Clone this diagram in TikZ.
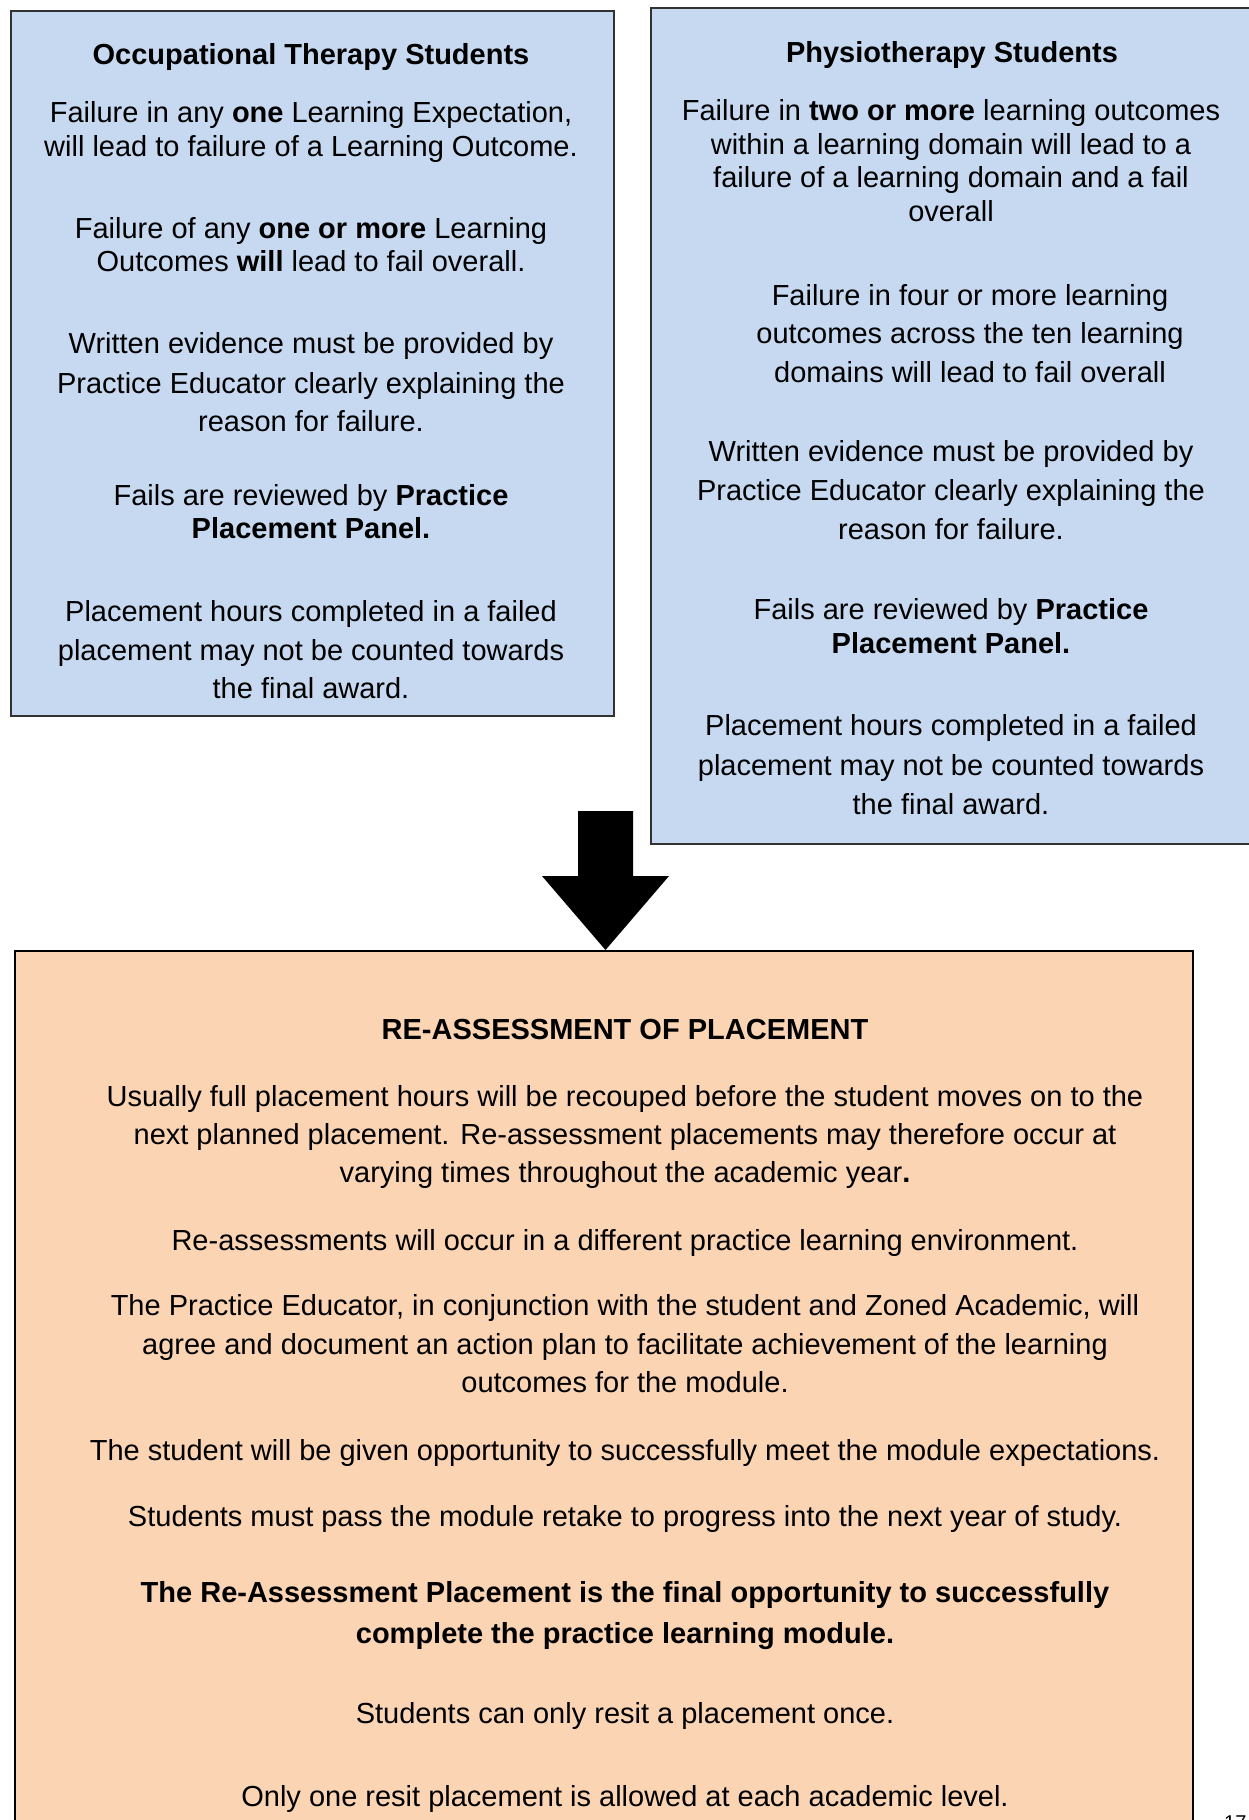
\documentclass[tikz,border=0pt]{standalone}
\usepackage{fontspec}
\setmainfont{Liberation Sans}
\definecolor{panelblue}{RGB}{198,217,240}
\definecolor{panelpeach}{RGB}{251,212,180}
\definecolor{edgegrey}{RGB}{50,50,50}
\begin{document}
\begin{tikzpicture}[x=1pt,y=-1pt,
  panel/.style={draw=edgegrey,line width=1.5pt,anchor=north west,inner sep=0pt},
  ln/.style={anchor=base,inner sep=0pt,font=\fontsize{29}{34}\selectfont}]
\useasboundingbox (0,0) rectangle (1249,1820);

% the three panels
\node[panel,fill=panelblue,minimum width=603pt,minimum height=705pt] (ot) at (10,10) {};
\node[panel,fill=panelblue,minimum width=620pt,minimum height=836pt] (pt) at (650,7) {};
\node[panel,fill=panelpeach,draw=black,line width=1.8pt,minimum width=1178pt,minimum height=900pt] (ra) at (14,950) {};

% block arrow pointing down onto the re-assessment panel
\coordinate (tip) at (605.5,950);
\fill[black] (tip) -- ++(-63.5,-74) -- ++(36,0) -- ++(0,-65) -- ++(55,0) -- ++(0,65) -- ++(36,0) -- cycle;

% Occupational Therapy column
\foreach \t/\yy [count=\i] in {
  {\textbf{Occupational Therapy Students}}/64,
  {Failure in any \textbf{one} Learning Expectation,}/122,
  {will lead to failure of a Learning Outcome.}/156,
  {Failure of any \textbf{one or more} Learning}/238,
  {Outcomes \textbf{will} lead to fail overall.}/271,
  {Written evidence must be provided by}/353,
  {Practice Educator clearly explaining the}/393,
  {reason for failure.}/431,
  {Fails are reviewed by \textbf{Practice}}/505,
  {\textbf{Placement Panel.}}/538,
  {Placement hours completed in a failed}/621,
  {placement may not be counted towards}/660,
  {the final award.}/698}
  \node[ln] (ot\i) at (311,\yy) {\t};

% Physiotherapy column
\foreach \t/\xx/\yy [count=\i] in {
  {\textbf{Physiotherapy Students}}/952/62,
  {Failure in \textbf{two or more} learning outcomes}/951/120,
  {within a learning domain will lead to a}/951/154,
  {failure of a learning domain and a fail}/951/187,
  {overall}/951/221,
  {Failure in four or more learning}/970/305,
  {outcomes across the ten learning}/970/343,
  {domains will lead to fail overall}/970/382,
  {Written evidence must be provided by}/951/461,
  {Practice Educator clearly explaining the}/951/500,
  {reason for failure.}/951/539,
  {Fails are reviewed by \textbf{Practice}}/951/619,
  {\textbf{Placement Panel.}}/951/653,
  {Placement hours completed in a failed}/951/735,
  {placement may not be counted towards}/951/775,
  {the final award.}/951/814}
  \node[ln] (pt\i) at (\xx,\yy) {\t};

% Re-assessment panel
\foreach \t/\yy [count=\i] in {
  {\textbf{RE-ASSESSMENT OF PLACEMENT}}/1039,
  {Usually full placement hours will be recouped before the student moves on to the}/1106,
  {next planned placement. Re-assessment placements may therefore occur at}/1144,
  {varying times throughout the academic year\textbf{.}}/1182,
  {Re-assessments will occur in a different practice learning environment.}/1250,
  {The Practice Educator, in conjunction with the student and Zoned Academic, will}/1315,
  {agree and document an action plan to facilitate achievement of the learning}/1354,
  {outcomes for the module.}/1392,
  {The student will be given opportunity to successfully meet the module expectations.}/1460,
  {Students must pass the module retake to progress into the next year of study.}/1526,
  {\textbf{The Re-Assessment Placement is the final opportunity to successfully}}/1602,
  {\textbf{complete the practice learning module.}}/1643,
  {Students can only resit a placement once.}/1723,
  {Only one resit placement is allowed at each academic level.}/1806}
  \node[ln] (ra\i) at (625,\yy) {\t};

% page number, running off the lower edge
\node[anchor=north west,inner sep=0pt,font=\fontsize{20}{24}\selectfont] (pageno) at (1224,1816) {17};
\end{tikzpicture}
\end{document}
